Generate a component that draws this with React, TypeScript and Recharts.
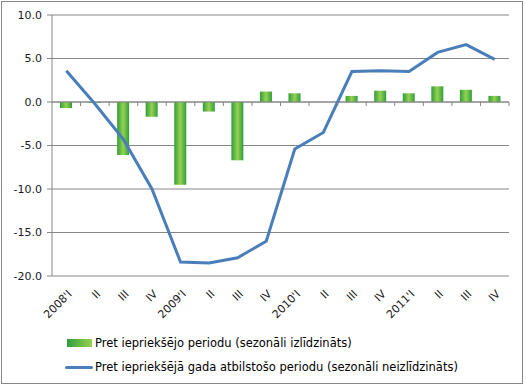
import React from "react";
import { ComposedChart, Bar, Line, XAxis, YAxis, CartesianGrid, ReferenceLine } from "recharts";

const categories = ["2008'I", "II", "III", "IV", "2009'I", "II", "III", "IV", "2010'I", "II", "III", "IV", "2011'I", "II", "III", "IV"];
// pret iepriekšējo periodu (sezonāli izlīdzināts)
const qoqValues = [-0.7, -0.1, -6.1, -1.7, -9.5, -1.1, -6.7, 1.2, 1.0, 0, 0.7, 1.3, 1.0, 1.8, 1.4, 0.7];
// pret iepriekšējā gada atbilstošo periodu (sezonāli neizlīdzināts)
const yoyValues = [3.6, -0.2, -4.3, -10.0, -18.4, -18.5, -17.9, -16.0, -5.4, -3.5, 3.5, 3.6, 3.5, 5.7, 6.6, 4.9];
const yTicks = [-20, -15, -10, -5, 0, 5, 10];

const qoqLabel = "Pret iepriekšējo periodu (sezonāli izlīdzināts)";
const yoyLabel = "Pret iepriekšējā gada atbilstošo periodu (sezonāli neizlīdzināts)";

const data = categories.map((name, i) => ({ name, qoq: qoqValues[i], yoy: yoyValues[i] }));

const W = 526;
const H = 387;
const M = { top: 15, right: 17, left: 0, bottom: 0 };
const Y_AXIS_W = 52;
const X_AXIS_H = 111;
const plotW = W - M.left - M.right - Y_AXIS_W;
const plotH = H - M.top - M.bottom - X_AXIS_H;
const bandW = plotW / categories.length;
const zeroY = M.top + (plotH * (10 - 0)) / 30;

const GRAY = "#868686";
const FONT = "'DejaVu Sans', Verdana, sans-serif";
const LINE_BLUE = "#4a7ebb";

function CategoryTick(props: any) {
  const { x, y, payload } = props;
  const ax = x + 3.5;
  const ay = y + 16;
  const bx = x + bandW / 2;
  return (
    <g>
      <line x1={bx} y1={zeroY} x2={bx} y2={zeroY + 4} stroke={GRAY} strokeWidth={1} />
      <text
        x={ax}
        y={ay}
        dy="0.35em"
        textAnchor="end"
        transform={`rotate(-45, ${ax}, ${ay})`}
        fontSize={11}
        fontFamily={FONT}
        fill="#1a1a1a"
      >
        {payload.value}
      </text>
    </g>
  );
}

export default function App() {
  return (
    <div style={{ position: "absolute", left: 0, top: 0, width: W, height: H, background: "#fff", fontFamily: FONT }}>
      <div
        style={{
          position: "absolute",
          left: 1,
          top: 1,
          width: 522,
          height: 383,
          border: `1px solid ${GRAY}`,
          boxSizing: "border-box",
        }}
      />
      <ComposedChart width={W} height={H} data={data} margin={M}>
        <defs>
          <linearGradient id="barGrad" x1="0" y1="0" x2="1" y2="0">
            <stop offset="0%" stopColor="#2f9e3a" />
            <stop offset="50%" stopColor="#96d152" />
            <stop offset="100%" stopColor="#2f9e3a" />
          </linearGradient>
        </defs>
        <CartesianGrid vertical={false} stroke={GRAY} strokeWidth={1} />
        <XAxis
          dataKey="name"
          height={X_AXIS_H}
          axisLine={false}
          tickLine={false}
          tickSize={0}
          tickMargin={0}
          interval={0}
          tick={<CategoryTick />}
        />
        <YAxis
          width={Y_AXIS_W}
          domain={[-20, 10]}
          ticks={yTicks}
          tickFormatter={(v: number) => v.toFixed(1)}
          stroke={GRAY}
          tickSize={5}
          tickMargin={5}
          tick={{ fontSize: 11, fontFamily: FONT, fill: "#1a1a2a" }}
        />
        <ReferenceLine y={0} stroke={GRAY} strokeWidth={1} />
        <Bar dataKey="qoq" fill="url(#barGrad)" barSize={12} isAnimationActive={false} />
        <Line
          dataKey="yoy"
          type="linear"
          stroke={LINE_BLUE}
          strokeWidth={3}
          dot={false}
          activeDot={false}
          isAnimationActive={false}
        />
      </ComposedChart>
      <div style={{ position: "absolute", left: 67, top: 335, fontSize: 11.5, color: "#000", lineHeight: "16px" }}>
        <div style={{ display: "flex", alignItems: "center", height: 16 }}>
          <div
            style={{
              width: 25,
              height: 8,
              background: "linear-gradient(to right, #2f9e3a, #96d152)",
              marginRight: 3,
            }}
          />
          <span>{qoqLabel}</span>
        </div>
        <div style={{ display: "flex", alignItems: "center", height: 16, marginTop: 8, marginLeft: -2 }}>
          <div style={{ width: 28, height: 3, background: LINE_BLUE, borderRadius: 2, marginRight: 2 }} />
          <span>{yoyLabel}</span>
        </div>
      </div>
    </div>
  );
}
